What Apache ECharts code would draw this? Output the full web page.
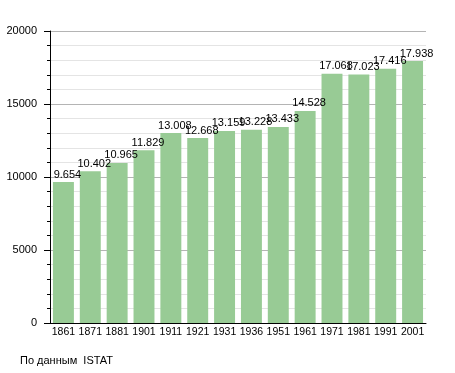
<!DOCTYPE html>
<html><head><meta charset="utf-8">
<script src="https://cdn.jsdelivr.net/npm/echarts@6/dist/echarts.min.js"></script>
<style>html,body{margin:0;padding:0;background:#fff}#c{width:455px;height:373px}</style>
</head><body><div id="c"></div>
<script>
const years = ['1861','1871','1881','1901','1911','1921','1931','1936','1951','1961','1971','1981','1991','2001'];
const population = [9654,10402,10965,11829,13008,12668,13159,13228,13433,14528,17068,17023,17416,17938];
const yTicks = [0,5000,10000,15000,20000];
const sourceText = 'По данным  ISTAT';

const chart = echarts.init(document.getElementById('c'), null, {renderer:'canvas'});
const fmt = v => { const s = String(v); return s.length > 3 ? s.slice(0, s.length-3) + '.' + s.slice(-3) : s; };
chart.setOption({
  animation:false,
  backgroundColor:'#fff',
  textStyle:{fontFamily:'Liberation Sans, Arial, sans-serif'},
  graphic:[{type:'text', left:20, top:355, style:{text:sourceText, fill:'#000', font:'11px "Liberation Sans", Arial, sans-serif'}}],
  grid:{left:50, right:29, top:31, bottom:50, containLabel:false},
  xAxis:{type:'category', data:years,
    axisLine:{lineStyle:{color:'#000', width:1}},
    axisTick:{show:false},
    axisLabel:{color:'#000', fontSize:10.5, margin:4, interval:0}},
  yAxis:{type:'value', min:yTicks[0], max:yTicks[yTicks.length-1], interval:5000,
    axisLine:{show:true, lineStyle:{color:'#000'}},
    axisTick:{show:true, length:6, lineStyle:{color:'#000'}},
    minorTick:{show:true, splitNumber:5, length:3, lineStyle:{color:'#000'}},
    splitLine:{show:true, lineStyle:{color:'#b4b4b4'}},
    minorSplitLine:{show:true, lineStyle:{color:'#e4e4e4'}},
    axisLabel:{color:'#000', fontSize:11, margin:13, formatter:v=>String(v)}},
  series:[{type:'bar', data:population, barCategoryGap:'22%',
    itemStyle:{color:'#98cb95'},
    label:{show:true, position:'top', distance:2, offset:[4,0], color:'#000', fontSize:11,
      formatter:p=>fmt(p.value)}}]
});
</script></body></html>
